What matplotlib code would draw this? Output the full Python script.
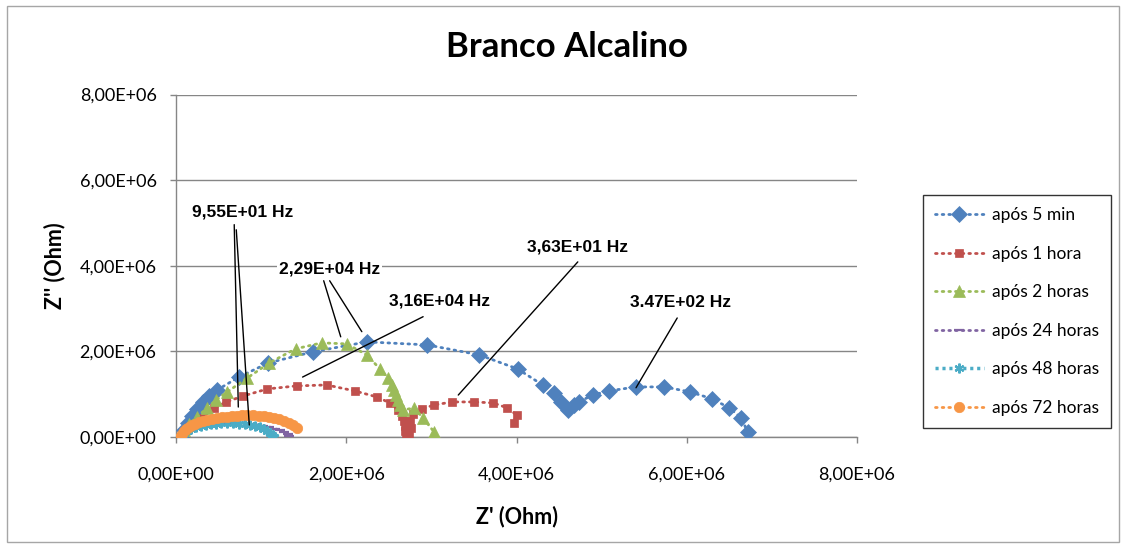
import matplotlib
matplotlib.use("Agg")
import matplotlib.pyplot as plt
from matplotlib.patches import Rectangle

# Nyquist data: Z' (real part) and Z'' (imaginary part), in Ohm
x_5min = [0.059e6, 0.094e6, 0.142e6, 0.189e6, 0.248e6, 0.319e6, 0.389e6, 0.484e6, 0.743e6, 1.086e6,
          1.605e6, 2.242e6, 2.950e6, 3.563e6, 4.012e6, 4.307e6, 4.437e6, 4.519e6, 4.602e6, 4.673e6,
          4.732e6, 4.897e6, 5.086e6, 5.404e6, 5.735e6, 6.041e6, 6.301e6, 6.501e6, 6.643e6, 6.714e6]
y_5min = [0.000e6, 0.164e6, 0.327e6, 0.491e6, 0.655e6, 0.819e6, 0.959e6, 1.099e6, 1.404e6, 1.731e6,
          1.988e6, 2.222e6, 2.152e6, 1.918e6, 1.591e6, 1.216e6, 1.029e6, 0.819e6, 0.632e6, 0.749e6,
          0.819e6, 0.982e6, 1.076e6, 1.170e6, 1.170e6, 1.053e6, 0.889e6, 0.678e6, 0.444e6, 0.117e6]

x_1h = [0.059e6, 0.130e6, 0.212e6, 0.307e6, 0.448e6, 0.590e6, 0.791e6, 1.074e6, 1.416e6, 1.770e6,
        2.100e6, 2.360e6, 2.513e6, 2.608e6, 2.655e6, 2.678e6, 2.690e6, 2.690e6, 2.702e6, 2.737e6,
        2.761e6, 2.749e6, 2.785e6, 2.891e6, 3.032e6, 3.245e6, 3.504e6, 3.729e6, 3.894e6, 4.000e6,
        3.965e6]
y_1h = [0.000e6, 0.164e6, 0.304e6, 0.444e6, 0.678e6, 0.819e6, 0.959e6, 1.123e6, 1.193e6, 1.216e6,
        1.076e6, 0.936e6, 0.795e6, 0.632e6, 0.491e6, 0.374e6, 0.257e6, 0.140e6, 0.047e6, 0.070e6,
        0.211e6, 0.374e6, 0.538e6, 0.655e6, 0.749e6, 0.819e6, 0.819e6, 0.795e6, 0.678e6, 0.515e6,
        0.327e6]

x_2h = [0.047e6, 0.094e6, 0.153e6, 0.248e6, 0.366e6, 0.472e6, 0.602e6, 0.838e6, 1.097e6, 1.404e6,
        1.711e6, 2.006e6, 2.242e6, 2.395e6, 2.490e6, 2.537e6, 2.560e6, 2.584e6, 2.608e6, 2.631e6,
        2.667e6, 2.797e6, 2.903e6, 3.032e6]
y_2h = [0.000e6, 0.164e6, 0.304e6, 0.468e6, 0.678e6, 0.866e6, 1.053e6, 1.380e6, 1.731e6, 2.059e6,
        2.199e6, 2.175e6, 1.918e6, 1.591e6, 1.380e6, 1.216e6, 1.099e6, 0.982e6, 0.866e6, 0.749e6,
        0.632e6, 0.678e6, 0.444e6, 0.117e6]

x_24h = [0.047e6, 0.094e6, 0.153e6, 0.224e6, 0.295e6, 0.378e6, 0.460e6, 0.543e6, 0.626e6, 0.708e6,
         0.791e6, 0.873e6, 0.956e6, 1.027e6, 1.097e6, 1.168e6, 1.227e6, 1.274e6, 1.310e6, 1.333e6]
y_24h = [0.000e6, 0.094e6, 0.164e6, 0.211e6, 0.257e6, 0.281e6, 0.304e6, 0.327e6, 0.327e6, 0.327e6,
         0.327e6, 0.304e6, 0.281e6, 0.257e6, 0.234e6, 0.187e6, 0.164e6, 0.117e6, 0.070e6, 0.023e6]

x_48h = [0.047e6, 0.083e6, 0.130e6, 0.177e6, 0.236e6, 0.295e6, 0.354e6, 0.413e6, 0.472e6, 0.531e6,
         0.602e6, 0.673e6, 0.743e6, 0.814e6, 0.873e6, 0.932e6, 0.991e6, 1.038e6, 1.074e6, 1.109e6,
         1.133e6, 1.156e6]
y_48h = [0.000e6, 0.070e6, 0.140e6, 0.187e6, 0.234e6, 0.257e6, 0.281e6, 0.304e6, 0.304e6, 0.327e6,
         0.327e6, 0.327e6, 0.304e6, 0.304e6, 0.281e6, 0.257e6, 0.234e6, 0.187e6, 0.140e6, 0.094e6,
         0.047e6, 0.000e6]

x_72h = [0.047e6, 0.071e6, 0.094e6, 0.118e6, 0.153e6, 0.189e6, 0.224e6, 0.271e6, 0.319e6, 0.366e6,
         0.425e6, 0.484e6, 0.543e6, 0.602e6, 0.661e6, 0.720e6, 0.779e6, 0.838e6, 0.909e6, 0.980e6,
         1.038e6, 1.097e6, 1.156e6, 1.215e6, 1.274e6, 1.333e6, 1.380e6, 1.416e6]
y_72h = [0.000e6, 0.070e6, 0.140e6, 0.187e6, 0.234e6, 0.281e6, 0.304e6, 0.351e6, 0.374e6, 0.398e6,
         0.421e6, 0.444e6, 0.468e6, 0.468e6, 0.491e6, 0.491e6, 0.515e6, 0.515e6, 0.515e6, 0.491e6,
         0.491e6, 0.468e6, 0.444e6, 0.421e6, 0.374e6, 0.327e6, 0.281e6, 0.211e6]

labels = ["após 5 min", "após 1 hora", "após 2 horas", "após 24 horas", "após 48 horas", "após 72 horas"]
x_ticks = [0, 2e6, 4e6, 6e6, 8e6]
y_ticks = [0, 2e6, 4e6, 6e6, 8e6]
tick_labels = ["0,00E+00", "2,00E+06", "4,00E+06", "6,00E+06", "8,00E+06"]

series = [
    (x_5min, y_5min, "#4F81BD", "D", 8),
    (x_1h, y_1h, "#C0504D", "s", 6),
    (x_2h, y_2h, "#9BBB59", "^", 8.5),
    (x_24h, y_24h, "#8064A2", "_", 7),
    (x_48h, y_48h, "#4BACC6", (6, 2, 0), 7),
    (x_72h, y_72h, "#F79646", "o", 7.5),
]

W, H = 1126, 548
fig = plt.figure(figsize=(W / 100, H / 100), dpi=100)
fig.patch.set_facecolor("white")

# outer chart frame
fig.patches.append(Rectangle((7 / W, 1 - 542 / H), (1119 - 7) / W, (542 - 6) / H,
                             transform=fig.transFigure, fill=False,
                             edgecolor="#A6A6A6", linewidth=1.0))

ax = fig.add_axes([176 / W, 1 - 437 / H, (857 - 176) / W, (437 - 94.5) / H])

for (xs, ys, col, mk, ms), lab in zip(series, labels):
    star = mk == (6, 2, 0)
    lw = 2.5 if star else 2.0
    ls = (0, (0.9, 1.1)) if star else (0, (0.6, 1.8))
    mew = 1.6 if mk in ("_", (6, 2, 0)) else 0.5
    ax.plot(xs, ys, color=col, linestyle=ls, linewidth=lw,
            dash_capstyle="butt" if star else "round",
            marker=mk, markersize=ms, markerfacecolor=col, markeredgecolor=col,
            markeredgewidth=mew, label=lab, zorder=3)

ax.set_xlim(0, 8e6)
ax.set_ylim(0, 8e6)
ax.set_xticks(x_ticks)
ax.set_yticks(y_ticks)
ax.set_xticklabels(tick_labels, family="Lato", fontsize=13)
ax.set_yticklabels(tick_labels, family="Lato", fontsize=13)
ax.tick_params(axis="both", length=4, color="#868686", width=1)
ax.tick_params(axis="y", pad=10)
ax.tick_params(axis="x", pad=17)

ax.grid(axis="y", color="#868686", linewidth=1.0, zorder=0)
ax.set_axisbelow(True)
for side in ("top", "right"):
    ax.spines[side].set_visible(False)
for side in ("left", "bottom"):
    ax.spines[side].set_color("#868686")
    ax.spines[side].set_linewidth(1.0)

ax.set_xlabel("Z' (Ohm)", family="Lato", fontweight="bold", fontsize=15.5, labelpad=17)
ax.set_ylabel("Z'' (Ohm)", family="Lato", fontweight="bold", fontsize=15.5, labelpad=10)
fig.text(567 / W, 1 - 47 / H, "Branco Alcalino", family="Lato", fontweight="bold",
         fontsize=25, ha="center", va="center")

# frequency callouts
ann_font = dict(family="Liberation Sans", fontweight="bold", fontsize=12.5)
box = dict(boxstyle="square,pad=0.12", facecolor="white", edgecolor="none")
callouts = [
    ("9,55E+01 Hz", (0.779e6, 5.26e6), [((0.684e6, 4.96e6), (0.732e6, 0.70e6)),
                                        ((0.708e6, 4.84e6), (0.861e6, 0.28e6))]),
    ("2,29E+04 Hz", (1.805e6, 3.93e6), [((1.735e6, 3.65e6), (1.935e6, 2.34e6)),
                                        ((1.805e6, 3.65e6), (2.183e6, 2.46e6))]),
    ("3,16E+04 Hz", (3.097e6, 3.18e6), [((2.903e6, 2.81e6), (1.487e6, 1.40e6))]),
    ("3,63E+01 Hz", (4.720e6, 4.445e6), [((4.720e6, 4.09e6), (3.316e6, 0.98e6))]),
    ("3.47E+02 Hz", (5.923e6, 3.135e6), [((5.888e6, 2.78e6), (5.404e6, 1.15e6))]),
]
for text, pos, leaders in callouts:
    for start, end in leaders:
        ax.annotate("", xy=end, xytext=start,
                    arrowprops=dict(arrowstyle="-", color="black", linewidth=1.0,
                                    shrinkA=0, shrinkB=0), zorder=4)
    ax.text(pos[0], pos[1], text, ha="center", va="center", bbox=box, zorder=5, **ann_font)

leg = ax.legend(loc="upper left", bbox_to_anchor=(923 / W, 1 - 195 / H),
                bbox_transform=fig.transFigure, frameon=True, fancybox=False,
                prop=dict(family="Lato", size=12.5), handlelength=2.8, handletextpad=0.45,
                labelspacing=1.3, borderpad=0.7, borderaxespad=0, markerscale=1.0)
leg.get_frame().set_edgecolor("black")
leg.get_frame().set_linewidth(1.0)

fig.savefig("out.png", dpi=100)
